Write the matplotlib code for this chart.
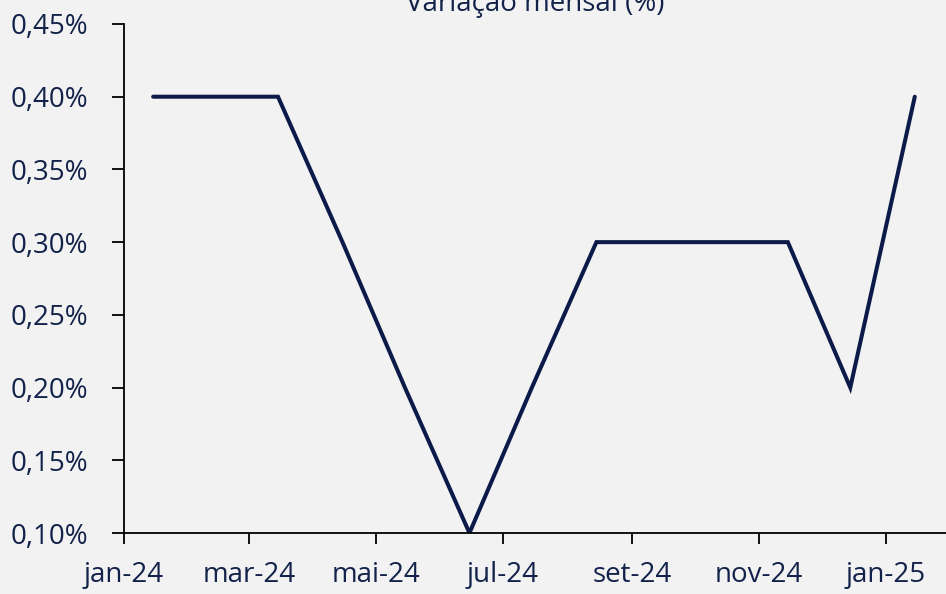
import numpy as np
import pandas as pd
import matplotlib
matplotlib.use('Agg')
import matplotlib.pyplot as plt
import matplotlib.dates as mdates
from matplotlib.ticker import FuncFormatter

# dados mensais (variação mensal, %)
meses = ['2024-01-15', '2024-02-15', '2024-03-15', '2024-04-15', '2024-05-15',
         '2024-06-15', '2024-07-15', '2024-08-15', '2024-09-15', '2024-10-15',
         '2024-11-15', '2024-12-15', '2025-01-15']
variacao = [0.40, 0.40, 0.40, 0.30, 0.20, 0.10, 0.20, 0.30, 0.30, 0.30, 0.30, 0.20, 0.40]
nomes_mes = ['jan', 'fev', 'mar', 'abr', 'mai', 'jun', 'jul', 'ago', 'set', 'out', 'nov', 'dez']

datas = pd.to_datetime(meses)
cor_linha = '#0b1a48'
cor_texto = '#13224a'
fundo = '#f2f2f2'

plt.rcParams['font.family'] = ['Open Sans', 'DejaVu Sans']

fig = plt.figure(figsize=(9.46, 5.94), dpi=100, facecolor=fundo)
ax = fig.add_axes([124/946, 61/594, 1 - 124/946, 509/594])
ax.set_facecolor(fundo)

ax.plot(datas, variacao, color=cor_linha, lw=2.9, solid_capstyle='round', solid_joinstyle='miter')

ax.set_xlim(pd.Timestamp('2024-01-01'), pd.Timestamp('2025-01-30'))
ax.set_ylim(0.10, 0.45)
ax.set_yticks(np.arange(0.10, 0.451, 0.05))
ax.yaxis.set_major_formatter(FuncFormatter(lambda v, p: f'{v:.2f}%'.replace('.', ',')))

ax.xaxis.set_major_locator(mdates.MonthLocator(bymonth=[1, 3, 5, 7, 9, 11]))
ax.xaxis.set_major_formatter(FuncFormatter(
    lambda v, p: f"{nomes_mes[mdates.num2date(v).month - 1]}-{mdates.num2date(v).strftime('%y')}"))

for s in ['top', 'right']:
    ax.spines[s].set_visible(False)
for s in ['left', 'bottom']:
    ax.spines[s].set_color('black')
    ax.spines[s].set_linewidth(1.3)

ax.tick_params(axis='y', length=9, width=1.3, pad=17, labelsize=20, labelcolor=cor_texto)
ax.tick_params(axis='x', length=8, width=1.3, pad=12, labelsize=20, labelcolor=cor_texto)

ax.set_title('Variação mensal (%)', fontsize=20, color=cor_texto, pad=9)

fig.savefig('out.png', dpi=100, facecolor=fundo)
